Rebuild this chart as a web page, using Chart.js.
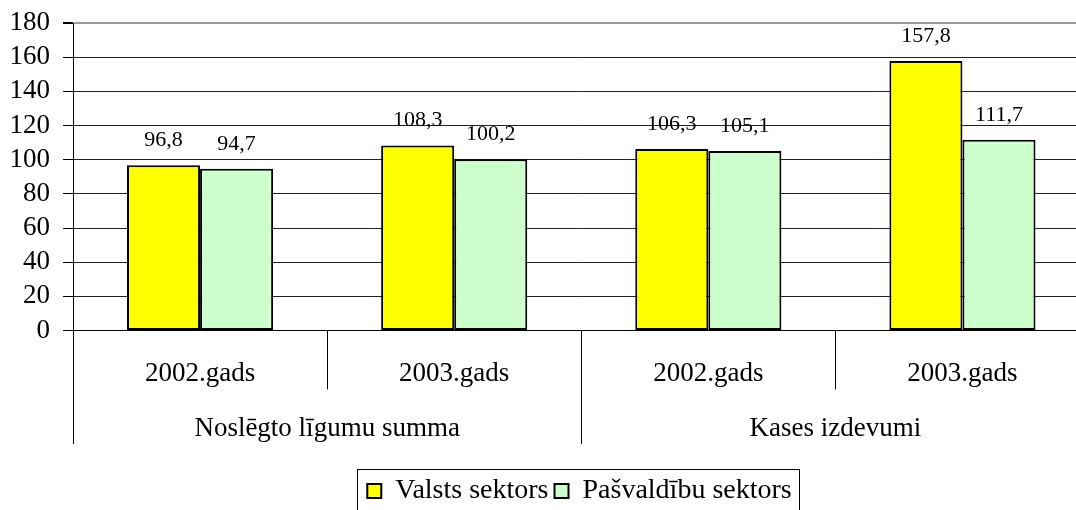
<!DOCTYPE html>
<html><head><meta charset="utf-8">
<script src="https://cdn.jsdelivr.net/npm/chart.js@4.4.1/dist/chart.umd.min.js"></script>
<style>html,body{margin:0;padding:0;overflow:hidden;background:#fff;width:1076px;height:510px}canvas{display:block}</style>
</head><body>
<canvas id="c" width="1159" height="510"></canvas>
<script>
const yearLabels = ['2002.gads', '2003.gads', '2002.gads', '2003.gads'];
const groupLabels = ['Noslēgto līgumu summa', 'Kases izdevumi'];
const seriesNames = ['Valsts sektors', 'Pašvaldību sektors'];
const valstsValues = [96.8, 108.3, 106.3, 157.8];
const pasvaldibuValues = [94.7, 100.2, 105.1, 111.7];
const yMin = 0, yMax = 180, yStep = 20;

const SERIF = "'Liberation Serif','Times New Roman',serif";
const fmt = v => v.toFixed(1).replace('.', ',');

const decor = {
  id: 'decor',
  afterDatasetsDraw(chart) {
    const ctx = chart.ctx;
    ctx.save();
    ctx.fillStyle = '#000';
    ctx.font = '22px ' + SERIF;
    ctx.textAlign = 'center';
    ctx.textBaseline = 'alphabetic';
    chart.data.datasets.forEach((ds, di) => {
      chart.getDatasetMeta(di).data.forEach((bar, i) => {
        ctx.fillText(fmt(ds.data[i]), bar.x, bar.y - 19);
      });
    });
    ctx.restore();
  },
  afterDraw(chart) {
    const ctx = chart.ctx, x = chart.scales.x, y = chart.scales.y;
    const n = yearLabels.length, per = n / groupLabels.length, step = x.width / n;
    ctx.save();
    ctx.strokeStyle = '#000';
    ctx.lineWidth = 1;
    for (let i = 0; i <= n; i++) {
      const px = Math.round(x.left + i * step) + 0.5;
      const end = (i % per === 0) ? x.bottom + 54.5 : x.bottom;
      ctx.beginPath(); ctx.moveTo(px, y.bottom); ctx.lineTo(px, end); ctx.stroke();
    }
    const hb = chart.legend.legendHitBoxes;
    if (hb && hb.length) {
      const l = Math.min(...hb.map(b => b.left)) - 10;
      const r = Math.max(...hb.map(b => b.left + b.width)) + 8;
      const t = Math.min(...hb.map(b => b.top)) - 8;
      const bt = Math.max(...hb.map(b => b.top + b.height)) + 14;
      ctx.strokeStyle = '#000';
      ctx.strokeRect(Math.round(l) + 0.5, Math.round(t) + 0.5, Math.round(r - l), Math.round(bt - t));
    }
    ctx.restore();
  }
};

new Chart(document.getElementById('c'), {
  type: 'bar',
  data: {
    labels: yearLabels,
    datasets: [
      { label: seriesNames[0], data: valstsValues, backgroundColor: '#FFFF00', borderColor: '#000', borderWidth: 2, borderSkipped: false },
      { label: seriesNames[1], data: pasvaldibuValues, backgroundColor: '#CCFFCC', borderColor: '#000', borderWidth: 2, borderSkipped: false }
    ]
  },
  options: {
    responsive: false,
    animation: false,
    devicePixelRatio: 1,
    layout: { padding: { top: 23, left: 0, right: 0, bottom: -5 } },
    datasets: { bar: { categoryPercentage: 0.575, barPercentage: 1 } },
    plugins: {
      tooltip: { enabled: false },
      legend: {
        position: 'bottom',
        labels: {
          color: '#000',
          font: { family: SERIF, size: 28 },
          boxWidth: 14, boxHeight: 14, padding: 6
        }
      }
    },
    scales: {
      y: {
        min: yMin, max: yMax,
        ticks: { stepSize: yStep, autoSkip: false, color: '#000', font: { family: SERIF, size: 27, lineHeight: 0.5 }, padding: 13 },
        grid: {
          color: c => c.tick && c.tick.value === yMax ? '#9a9a9a' : '#222',
          lineWidth: c => c.tick && c.tick.value === yMax ? 2 : 1,
          tickColor: '#000', tickLength: 10
        },
        border: { color: '#000', width: 1 },
        afterFit: s => { s.width = 73; }
      },
      yR: {
        position: 'right', display: true,
        min: yMin, max: yMax,
        ticks: { display: false },
        grid: { display: false },
        border: { display: false },
        afterFit: s => { s.width = 69.5; }
      },
      x: {
        weight: 0,
        ticks: { color: '#000', font: { family: SERIF, size: 27 }, padding: 19.5 },
        grid: { display: false },
        border: { color: '#000', width: 1 },
        afterFit: s => { s.height = 59; }
      },
      x2: {
        type: 'category',
        position: 'bottom',
        weight: 1,
        labels: groupLabels,
        offset: true,
        ticks: { color: '#000', font: { family: SERIF, size: 27 }, padding: 15.5 },
        grid: { display: false },
        border: { display: false },
        afterFit: s => { s.height = 81.5; }
      }
    }
  },
  plugins: [decor]
});
</script>
</body></html>
